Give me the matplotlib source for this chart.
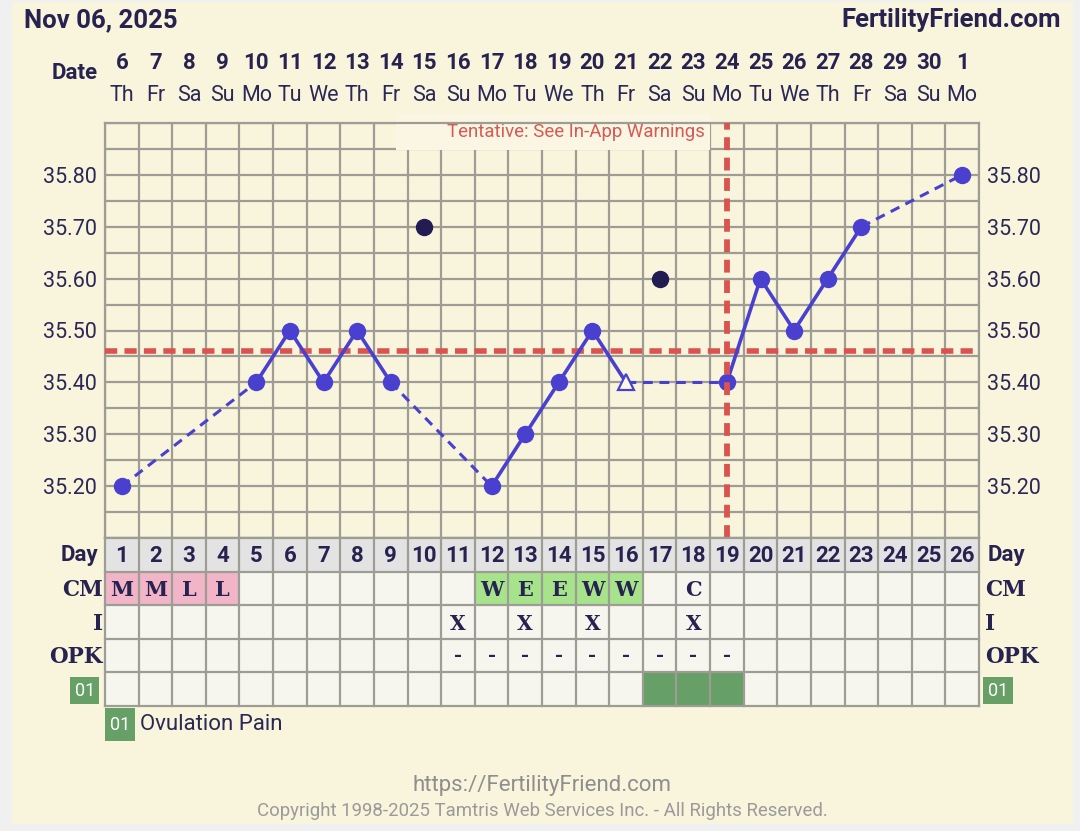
import numpy as np
import matplotlib
matplotlib.use("Agg")
import matplotlib.pyplot as plt
from matplotlib.patches import Rectangle

plt.rcParams['font.family'] = ['Roboto', 'DejaVu Sans']

# ---------------- data ----------------
cycle_days = list(range(1, 27))
dates = [6, 7, 8, 9, 10, 11, 12, 13, 14, 15, 16, 17, 18, 19, 20, 21, 22, 23, 24, 25, 26, 27, 28, 29, 30, 1]
weekdays = ['Th', 'Fr', 'Sa', 'Su', 'Mo', 'Tu', 'We', 'Th', 'Fr', 'Sa', 'Su', 'Mo', 'Tu',
            'We', 'Th', 'Fr', 'Sa', 'Su', 'Mo', 'Tu', 'We', 'Th', 'Fr', 'Sa', 'Su', 'Mo']
temps = [35.20, None, None, None, 35.40, 35.50, 35.40, 35.50, 35.40, None, None, 35.20, 35.30,
         35.40, 35.50, 35.40, None, None, 35.40, 35.60, 35.50, 35.60, 35.70, None, None, 35.80]
open_marker_days = [16]
discarded_days = [10, 17]
discarded_temps = [35.70, 35.60]
coverline = 35.46
ovulation_day = 19
y_labels = [35.20, 35.30, 35.40, 35.50, 35.60, 35.70, 35.80]

cm = ['M', 'M', 'L', 'L', '', '', '', '', '', '', '', 'W', 'E', 'E', 'W', 'W', '', 'C',
      '', '', '', '', '', '', '', '']
intercourse_days = [11, 13, 15, 18]
opk_days = [11, 12, 13, 14, 15, 16, 17, 18, 19]
pain_days = [17, 18, 19]

# ---------------- style ----------------
NAVY = '#27224f'
LINE = '#4a40cf'
DARK = '#221c52'
RED = '#d9544f'
GRID = '#9d9d96'
CREAM = '#f9f4dc'
CELL = '#f6f6ef'
DAYROW = '#e3e3e3'
PINK = '#f2b4c7'
GREEN = '#a6e38b'
PAIN = '#66a066'
GRAYTXT = '#8e8e8e'

W, H = 1080, 831
fig = plt.figure(figsize=(W / 100, H / 100), dpi=100)
fig.patch.set_facecolor('#f0f0f0')


def fx(px):
    return px / W


def fy(py):
    return 1 - py / H


fig.add_artist(Rectangle((fx(12), fy(824)), fx(1073) - fx(12), (824 - 2) / H,
                         transform=fig.transFigure, facecolor=CREAM, edgecolor='none', zorder=0))

# ---------------- temperature axes ----------------
L, R, T, B = 105, 979, 123, 538
ax = fig.add_axes([fx(L), fy(B), (R - L) / W, (B - T) / H])
ax.set_facecolor(CREAM)
ax.set_xlim(0.5, 26.5)
ax.set_ylim(35.10, 35.90)

for xv in np.arange(0.5, 27.0, 1.0):
    ax.axvline(xv, color=GRID, lw=1.6, zorder=1)
for yv in np.arange(35.10, 35.91, 0.05):
    ax.axhline(yv, color=GRID, lw=1.6, zorder=1)
for s in ax.spines.values():
    s.set_color(GRID)
    s.set_linewidth(1.6)

ax.set_xticks([])
ax.set_yticks(y_labels)
ax.set_yticklabels([f'{v:.2f}' for v in y_labels])
ax.tick_params(axis='y', length=0, labelsize=15.5, labelcolor='#2b2756', pad=5.5,
               labelleft=True, labelright=True)

# tentative box
ax.add_patch(Rectangle((9.16, 35.848), 18.5 - 9.16, 0.07, facecolor='#faf6e3', edgecolor='none',
                       zorder=2, clip_on=False))
ax.text(14.52, 35.882, 'Tentative: See In-App Warnings', color='#d65a55', fontsize=13.4,
        ha='center', va='center', zorder=3)

# coverline
ax.plot([0.5, 26.5], [coverline, coverline], color=RED, lw=4, dashes=(2.2, 1.3), zorder=4,
        dash_capstyle='butt')

# temperature segments
valid = [(d, t) for d, t in zip(cycle_days, temps) if t is not None]
for (d1, t1), (d2, t2) in zip(valid[:-1], valid[1:]):
    if d2 - d1 == 1:
        ax.plot([d1, d2], [t1, t2], color=LINE, lw=2.6, zorder=5, solid_capstyle='round')
    else:
        ax.plot([d1, d2], [t1, t2], color=LINE, lw=2.2, dashes=(3.2, 2.2), zorder=5)

cd = [d for d, t in valid if d not in open_marker_days]
ct = [t for d, t in valid if d not in open_marker_days]
ax.plot(cd, ct, 'o', color=LINE, ms=11.5, zorder=6)
od = [d for d, t in valid if d in open_marker_days]
ot = [t for d, t in valid if d in open_marker_days]
ax.plot(od, ot, '^', mfc='#fbf8ea', mec=LINE, mew=1.6, ms=11, zorder=6)
ax.plot(discarded_days, discarded_temps, 'o', color=DARK, ms=11.5, zorder=6)

ax.plot([ovulation_day, ovulation_day], [35.10, 35.90], color=RED, lw=4.2, dashes=(2.2, 1.3),
        zorder=7, dash_capstyle='butt')


# header: dates & weekdays
def ay(py):
    return (B - py) / (B - T)


xt = ax.get_xaxis_transform()
for d, dt, wd in zip(cycle_days, dates, weekdays):
    ax.text(d, ay(63), str(dt), transform=xt, ha='center', va='center', fontsize=16,
            fontweight='bold', color=NAVY, clip_on=False)
    ax.text(d, ay(96), wd, transform=xt, ha='center', va='center', fontsize=15.5,
            color='#2b2756', clip_on=False)
fig.text(fx(75), fy(73), 'Date', ha='center', va='center', fontsize=16, fontweight='bold',
         color=NAVY)

fig.text(fx(24), fy(20), 'Nov 06, 2025', ha='left', va='center', fontsize=18.5,
         fontweight='bold', color=NAVY)
fig.text(fx(1061), fy(20), 'FertilityFriend.com', ha='right', va='center', fontsize=18.5,
         fontweight='bold', color=NAVY)

# ---------------- table axes ----------------
TB = 706
tab = fig.add_axes([fx(L), fy(TB), (R - L) / W, (TB - B) / H])
tab.set_xlim(0.5, 26.5)
tab.set_ylim(5, 0)
tab.axis('off')

row_colors = [DAYROW, CELL, CELL, CELL, CELL]
for r, c in enumerate(row_colors):
    tab.bar(cycle_days, 1, bottom=r, width=1, color=c, align='center', zorder=1)

cm_cols = [PINK if v in ('M', 'L') else GREEN if v in ('W', 'E') else CELL for v in cm]
tab.bar(cycle_days, 1, bottom=1, width=1, color=cm_cols, zorder=1.5)
tab.bar(pain_days, 1, bottom=4, width=1, color=PAIN, zorder=1.5)

for xv in np.arange(0.5, 27.0, 1.0):
    tab.plot([xv, xv], [0, 5], color=GRID, lw=1.6, zorder=2, clip_on=False)
for yv in range(0, 6):
    tab.plot([0.5, 26.5], [yv, yv], color=GRID, lw=1.6, zorder=2, clip_on=False)

SERIF = ['DejaVu Serif']
for d in cycle_days:
    tab.text(d, 0.55, str(d), ha='center', va='center', fontsize=16, fontweight='bold',
             color=NAVY, zorder=3)
for d, v in zip(cycle_days, cm):
    if v:
        tab.text(d, 1.55, v, ha='center', va='center', fontsize=15, fontweight='bold',
                 family=SERIF, color=NAVY, zorder=3)
for d in intercourse_days:
    tab.text(d, 2.55, 'X', ha='center', va='center', fontsize=14.5, fontweight='bold',
             family=SERIF, color=NAVY, zorder=3)
for d in opk_days:
    tab.text(d, 3.5, '-', ha='center', va='center', fontsize=14, fontweight='bold',
             family=SERIF, color=NAVY, zorder=3)

row_labels = ['Day', 'CM', 'I', 'OPK']
for r, lab in enumerate(row_labels):
    if lab == 'Day':
        kw = dict(fontsize=16, fontweight='bold', color=NAVY, va='center', clip_on=False)
        tab.text(0.29, r + 0.5, lab, ha='right', **kw)
        tab.text(26.77, r + 0.5, lab, ha='left', **kw)
    else:
        kw = dict(fontsize=15.5, fontweight='bold', color=NAVY, va='center', clip_on=False,
                  family=SERIF)
        tab.text(0.44, r + 0.55, lab, ha='right', **kw)
        tab.text(26.68, r + 0.55, lab, ha='left', **kw)

for x0 in (-0.54, 26.63):
    tab.add_patch(Rectangle((x0, 4.15), 0.87, 0.78, facecolor=PAIN, edgecolor='none',
                            clip_on=False, zorder=3))
    tab.text(x0 + 0.435, 4.54, '01', ha='center', va='center', fontsize=13, color='white',
             zorder=4, clip_on=False)

# legend
fig.add_artist(Rectangle((fx(105), fy(741)), 30 / W, 33 / H, transform=fig.transFigure,
                         facecolor=PAIN, edgecolor='none'))
fig.text(fx(120), fy(725), '01', ha='center', va='center', fontsize=13, color='white')
fig.text(fx(140), fy(725), 'Ovulation Pain', ha='left', va='center', fontsize=16,
         color='#2b2756')

# footer
fig.text(fx(542), fy(786), 'https://FertilityFriend.com', ha='center', va='center',
         fontsize=16, color=GRAYTXT)
fig.text(fx(542), fy(811), 'Copyright 1998-2025 Tamtris Web Services Inc. - All Rights Reserved.',
         ha='center', va='center', fontsize=13.4, color='#9a9a9a')

fig.savefig('out.png', dpi=100, facecolor=fig.get_facecolor())
